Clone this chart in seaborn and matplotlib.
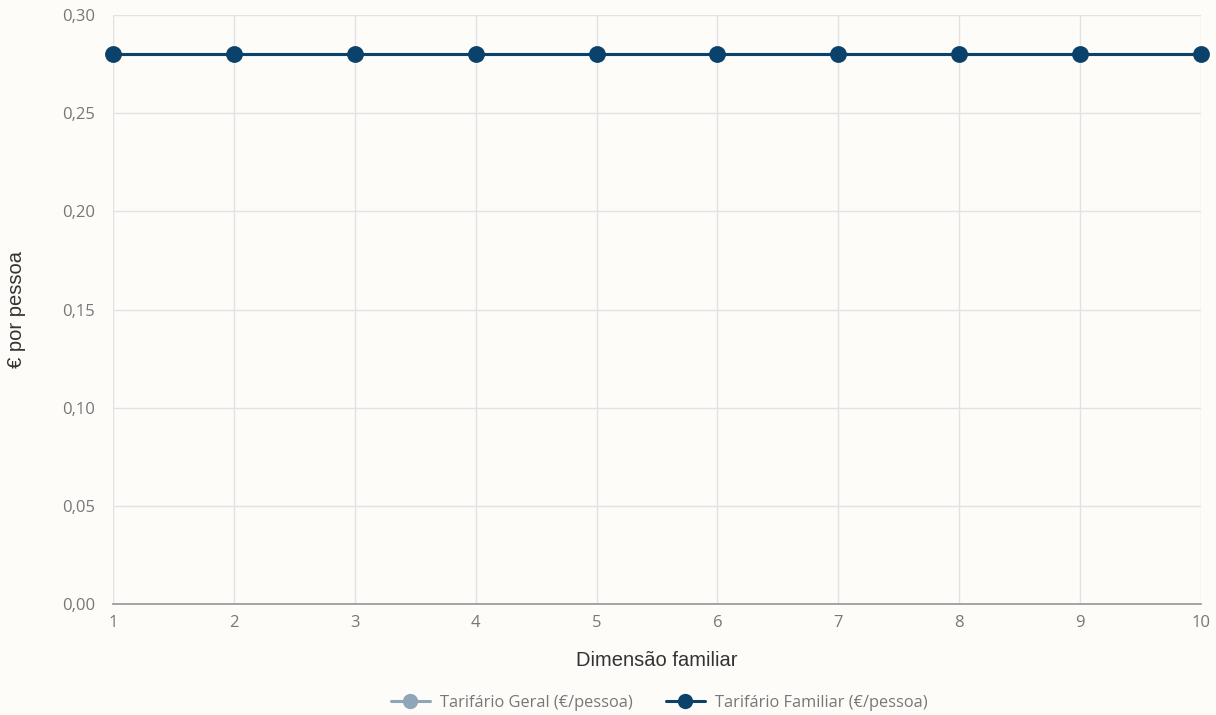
import pandas as pd
import matplotlib
matplotlib.use('Agg')
import matplotlib.pyplot as plt
import seaborn as sns
from matplotlib.lines import Line2D

# Data
household_size = [1, 2, 3, 4, 5, 6, 7, 8, 9, 10]
geral = [0.28, 0.28, 0.28, 0.28, 0.28, 0.28, 0.28, 0.28, 0.28, 0.28]
familiar = [0.28, 0.28, 0.28, 0.28, 0.28, 0.28, 0.28, 0.28, 0.28, 0.28]
series_names = ['Tarifário Geral (€/pessoa)', 'Tarifário Familiar (€/pessoa)']
y_ticks = [0.00, 0.05, 0.10, 0.15, 0.20, 0.25, 0.30]

df = pd.DataFrame({
    'Dimensão familiar': household_size * 2,
    'valor': geral + familiar,
    'serie': [series_names[0]] * len(geral) + [series_names[1]] * len(familiar),
})

sns.set_theme(style='white')
plt.rcParams['font.family'] = ['Open Sans', 'DejaVu Sans']

bg = '#fdfcf9'
fig = plt.figure(figsize=(12.16, 7.15), dpi=100, facecolor=bg)
ax = fig.add_axes([113 / 1216, 1 - 604 / 715, (1201 - 113) / 1216, (604 - 15) / 715])
ax.set_facecolor(bg)

palette = {series_names[0]: '#8fa5b8', series_names[1]: '#0a426c'}
sns.lineplot(data=df, x='Dimensão familiar', y='valor', hue='serie', palette=palette,
             marker='o', markersize=12, markeredgewidth=0, linewidth=2.2, ax=ax,
             legend=False)
for ln in ax.lines:
    ln.set_clip_on(False)

ax.set_xlim(1, 10)
ax.set_ylim(0, 0.30)
ax.set_xticks(household_size)
ax.set_yticks(y_ticks)
ax.set_yticklabels([f'{v:.2f}'.replace('.', ',') for v in y_ticks])
ax.grid(True, color='#e2e2e2', linewidth=1)
ax.set_axisbelow(True)
for s in ['top', 'right', 'left']:
    ax.spines[s].set_visible(False)
ax.spines['bottom'].set_color('#999999')
ax.tick_params(axis='both', length=0, labelsize=12, labelcolor='#777777')
ax.tick_params(axis='y', pad=13)
ax.tick_params(axis='x', pad=8)

ax.set_xlabel('Dimensão familiar', fontsize=14.5, color='#333333', labelpad=14,
              family='Liberation Sans')
ax.set_ylabel('€ por pessoa', fontsize=14.5, color='#333333', labelpad=26,
              family='Liberation Sans')

# Legend
handles = [Line2D([0], [0], color=palette[n], marker='o', markersize=11, linewidth=2.2,
                  markeredgewidth=0) for n in series_names]
fig.legend(handles, series_names, loc='center', bbox_to_anchor=(0.542, 1 - 703 / 715),
           ncol=2, frameon=False, fontsize=11.8, labelcolor='#777777',
           handlelength=2.4, columnspacing=2.0, handletextpad=0.6)

fig.savefig('out.png', dpi=100, facecolor=bg)
